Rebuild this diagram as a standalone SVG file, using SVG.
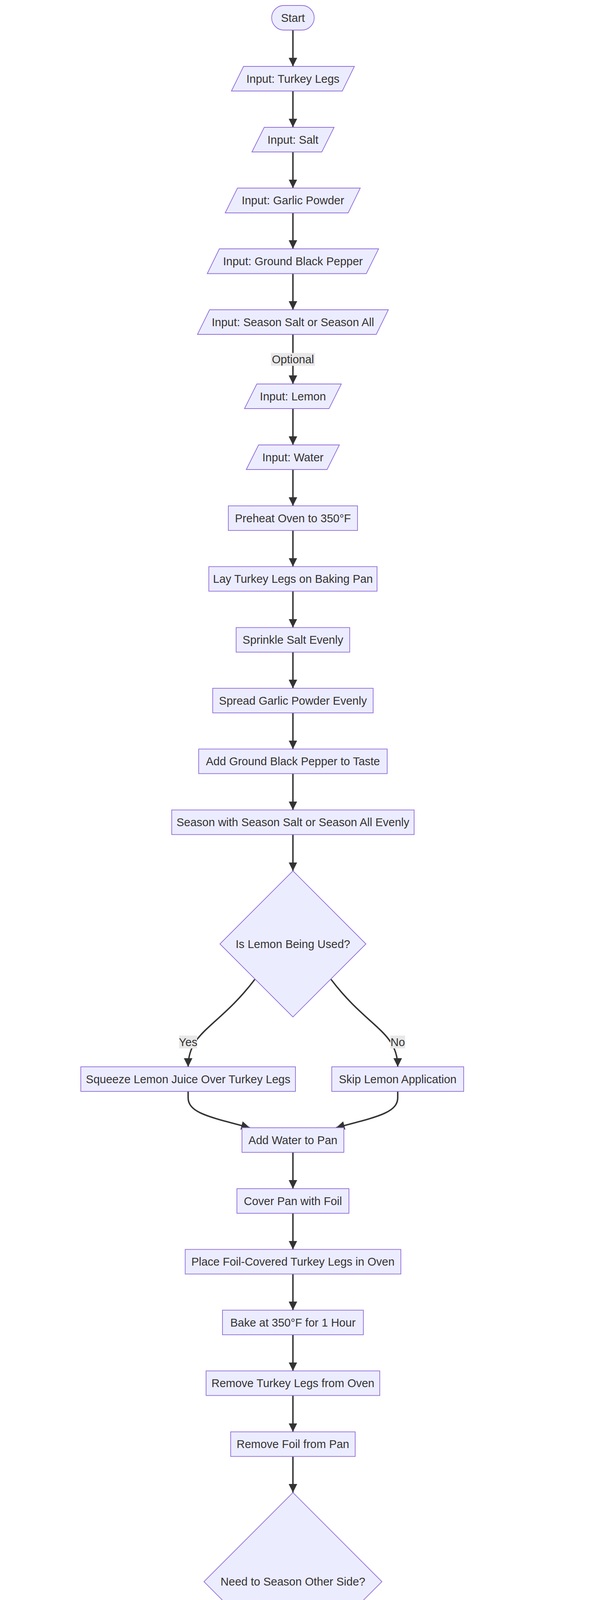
<svg xmlns="http://www.w3.org/2000/svg" width="1568" height="6704" viewBox="0 0 1568 6704">
<style>
.n rect,.n polygon{fill:#ECECFF;stroke:#9370DB;stroke-width:1.85}
.t{font-family:"Liberation Sans",Arial,sans-serif;font-size:29px;fill:#333;text-anchor:middle}
.e path{fill:none;stroke:#333;stroke-width:3.7;marker-end:url(#arr)}
.lb rect{fill:#e8e8e8}
</style>
<defs>
<marker id="arr" viewBox="0 0 10 10" refX="10" refY="5" markerUnits="userSpaceOnUse" markerWidth="22" markerHeight="22" orient="auto">
<path d="M0,0 L10,5 L0,10 z" fill="#333"/>
</marker>
</defs>
<rect width="1568" height="6704" fill="#fff"/>
<g id="edges" class="e">
<path d="M750.5,77 L750.5,170"/>
<path d="M750.5,233 L750.5,325.7"/>
<path d="M750.5,389 L750.5,481.5"/>
<path d="M750.5,545 L750.5,637"/>
<path d="M750.5,700.5 L750.5,793"/>
<path d="M750.5,856 L750.5,983"/>
<path d="M750.5,1046 L750.5,1139"/>
<path d="M750.5,1202 L750.5,1295"/>
<path d="M750.5,1358 L750.5,1450.5"/>
<path d="M750.5,1513.5 L750.5,1606.5"/>
<path d="M750.5,1669.5 L750.5,1762"/>
<path d="M750.5,1825 L750.5,1917.5"/>
<path d="M750.5,1980.5 L750.5,2073.5"/>
<path d="M750.5,2136.5 L750.5,2229.5"/>
<path d="M653,2507 C560,2630 482,2640 482,2731"/>
<path d="M848,2507 C941,2630 1019,2640 1019,2731"/>
<path d="M482,2794 L482,2810 C482,2850 540,2860 640,2887"/>
<path d="M1019,2794 L1019,2810 C1019,2850 961,2860 861,2887"/>
<path d="M750.5,2950 L750.5,3043"/>
<path d="M750.5,3106 L750.5,3198.5"/>
<path d="M750.5,3261.5 L750.5,3354"/>
<path d="M750.5,3417 L750.5,3509.5"/>
<path d="M750.5,3572.5 L750.5,3665.5"/>
<path d="M750.5,3728.5 L750.5,3821"/>
<path d="M640,4168 C550,4290 477,4314 477,4405"/>
<path d="M897,4131 C1097,4236 1272,4330 1272,4440 L1272,5311"/>
<path d="M477,4468 L477,4560.5"/>
<path d="M477,4623.5 L477,4716.5"/>
<path d="M371,5079 C291,5204 229,5220 229,5311"/>
<path d="M583,5079 C663,5204 725,5220 725,5311"/>
<path d="M229,5374 L229,5392 C229,5420 340,5445 529,5467"/>
<path d="M725,5374 L725,5467"/>
<path d="M1272,5374 L1272,5392 C1272,5420 1100,5445 921,5467"/>
<path d="M725,5530 L725,5622.5"/>
<path d="M725,5685.5 L725,5779"/>
<path d="M725,5842 L725,5934.5"/>
<path d="M725,5997.5 L725,6090.5"/>
<path d="M725,6153.5 L725,6245.6"/>
<path d="M725,6308.5 L725,6401"/>
<path d="M725,6464 L725,6557"/>
</g>
<g id="edge-labels" class="lb">
<g id="lbl-optional"><rect x="694" y="903.5" width="113" height="33"/><text class="t" x="750.5" y="930">Optional</text></g>
<g id="lbl-yes1"><rect x="459" y="2651" width="46" height="33"/><text class="t" x="482" y="2677.5">Yes</text></g>
<g id="lbl-no1"><rect x="1000" y="2651" width="38" height="33"/><text class="t" x="1019" y="2677.5">No</text></g>
<g id="lbl-yes2"><rect x="454" y="4324.5" width="46" height="33"/><text class="t" x="477" y="4351">Yes</text></g>
<g id="lbl-no2"><rect x="1253" y="4575.5" width="38" height="33"/><text class="t" x="1272" y="4602">No</text></g>
<g id="lbl-yes3"><rect x="206" y="5233.5" width="46" height="33"/><text class="t" x="229" y="5260">Yes</text></g>
<g id="lbl-no3"><rect x="706" y="5233.5" width="38" height="33"/><text class="t" x="725" y="5260">No</text></g>
</g>
<g id="start" class="n"><rect x="696" y="14" width="109" height="63" rx="31.5"/><text class="t" x="750.5" y="55.5">Start</text></g>
<g id="in-turkey" class="n"><polygon points="593,233 624,170 908,170 877,233"/><text class="t" x="750.5" y="211.5">Input: Turkey Legs</text></g>
<g id="in-salt" class="n"><polygon points="645.5,389 677,326 856,326 824.5,389"/><text class="t" x="750.5" y="367.5">Input: Salt</text></g>
<g id="in-garlic" class="n"><polygon points="577,545 608.5,481.5 923,481.5 892,545"/><text class="t" x="750.5" y="523">Input: Garlic Powder</text></g>
<g id="in-pepper" class="n"><polygon points="531,700.5 562,637 970,637 938.5,700.5"/><text class="t" x="750.5" y="679">Input: Ground Black Pepper</text></g>
<g id="in-seasonsalt" class="n"><polygon points="506,856 537,793 995,793 964,856"/><text class="t" x="750.5" y="834.5">Input: Season Salt or Season All</text></g>
<g id="in-lemon" class="n"><polygon points="626.5,1046 658,983 874.5,983 843,1046"/><text class="t" x="750.5" y="1024.5">Input: Lemon</text></g>
<g id="in-water" class="n"><polygon points="631,1202 662.5,1139 869.5,1139 838,1202"/><text class="t" x="750.5" y="1180.5">Input: Water</text></g>
<g id="preheat" class="n"><rect x="585" y="1295" width="331" height="63"/><text class="t" x="750.5" y="1336.5">Preheat Oven to 350°F</text></g>
<g id="lay" class="n"><rect x="535" y="1450.5" width="431" height="63"/><text class="t" x="750.5" y="1492">Lay Turkey Legs on Baking Pan</text></g>
<g id="sprinkle" class="n"><rect x="605" y="1606.5" width="291" height="63"/><text class="t" x="750.5" y="1648">Sprinkle Salt Evenly</text></g>
<g id="spread" class="n"><rect x="545" y="1762" width="411" height="63"/><text class="t" x="750.5" y="1803.5">Spread Garlic Powder Evenly</text></g>
<g id="add-pepper" class="n"><rect x="509" y="1917.5" width="483" height="63"/><text class="t" x="750.5" y="1959">Add Ground Black Pepper to Taste</text></g>
<g id="season" class="n"><rect x="440" y="2073.5" width="621" height="63"/><text class="t" x="750.5" y="2115">Season with Season Salt or Season All Evenly</text></g>
<g id="dec-lemon" class="n"><polygon points="750.5,2229.5 937.5,2416.5 750.5,2603.5 563.5,2416.5"/><text class="t" x="750.5" y="2426.5">Is Lemon Being Used?</text></g>
<g id="squeeze" class="n"><rect x="207" y="2731" width="550" height="63"/><text class="t" x="482" y="2772.5">Squeeze Lemon Juice Over Turkey Legs</text></g>
<g id="skip-lemon" class="n"><rect x="850" y="2731" width="338" height="63"/><text class="t" x="1019" y="2772.5">Skip Lemon Application</text></g>
<g id="add-water" class="n"><rect x="620" y="2887" width="261" height="63"/><text class="t" x="750.5" y="2928.5">Add Water to Pan</text></g>
<g id="cover" class="n"><rect x="607" y="3043" width="287" height="63"/><text class="t" x="750.5" y="3084.5">Cover Pan with Foil</text></g>
<g id="place" class="n"><rect x="474.5" y="3198.5" width="552.5" height="63"/><text class="t" x="750.5" y="3240">Place Foil-Covered Turkey Legs in Oven</text></g>
<g id="bake" class="n"><rect x="570" y="3354" width="361" height="63"/><text class="t" x="750.5" y="3395.5">Bake at 350°F for 1 Hour</text></g>
<g id="remove" class="n"><rect x="528" y="3509.5" width="445" height="63"/><text class="t" x="750.5" y="3551">Remove Turkey Legs from Oven</text></g>
<g id="remove-foil" class="n"><rect x="591" y="3665.5" width="319" height="63"/><text class="t" x="750.5" y="3707">Remove Foil from Pan</text></g>
<g id="dec-season" class="n"><polygon points="750.5,3821 978.5,4049 750.5,4277 522.5,4049"/><text class="t" x="750.5" y="4059">Need to Season Other Side?</text></g>
<g id="turn1" class="n"><rect x="317" y="4405" width="320" height="63"/><text class="t" x="477" y="4446.5">Turn Turkey Legs Over</text></g>
<g id="quick-dash" class="n"><rect x="43" y="4560.5" width="868" height="63"/><text class="t" x="477" y="4602">Add Quick Dash of Salt, Pepper, Garlic Powder, and Season Salt</text></g>
<g id="dec-lemon2" class="n"><polygon points="477,4716.5 711,4950.5 477,5184.5 243,4950.5"/><text class="t" x="477" y="4960.5">Using Lemon for Other Side?</text></g>
<g id="lemon-other" class="n"><polygon points="15,5374 47,5311 443,5311 412,5374"/><text class="t" x="229" y="5353">Lemon Juice on Other Side</text></g>
<g id="skip-other" class="n"><rect x="537" y="5311" width="376" height="63"/><text class="t" x="725" y="5352.5">Skip Lemon for Other Side</text></g>
<g id="proceed" class="n"><rect x="1007" y="5311" width="530" height="63"/><text class="t" x="1272" y="5352.5">Proceed without Additional Seasoning</text></g>
<g id="return" class="n"><rect x="529" y="5467" width="392" height="63"/><text class="t" x="725" y="5508.5">Return Turkey Legs to Oven</text></g>
<g id="bake-add" class="n"><rect x="484" y="5622.5" width="483" height="63"/><text class="t" x="725" y="5664">Bake Additional 1 Hour Uncovered</text></g>
<g id="out-cooked" class="n"><polygon points="364,5842 396,5779 1086,5779 1055,5842"/><text class="t" x="725" y="5820.5">Output: Cooked Turkey Legs Removed from Oven</text></g>
<g id="turn2" class="n"><rect x="564.5" y="5934.5" width="321" height="63"/><text class="t" x="725" y="5976">Turn Turkey Legs Over</text></g>
<g id="rest" class="n"><rect x="557" y="6090.5" width="336" height="63"/><text class="t" x="725" y="6132">Let Rest for 10 Minutes</text></g>
<g id="out-ready" class="n"><polygon points="452.7,6308.5 484.3,6245.6 997.4,6245.6 966.4,6308.5"/><text class="t" x="725" y="6287">Output: Turkey Legs Ready to Serve</text></g>
<g id="serve" class="n"><rect x="602" y="6401" width="246" height="63"/><text class="t" x="725" y="6442.5">Serve with Sides</text></g>
<g id="end" class="n"><rect x="679" y="6557" width="92" height="63" rx="31.5"/><text class="t" x="725" y="6598.5">End</text></g>
</svg>
